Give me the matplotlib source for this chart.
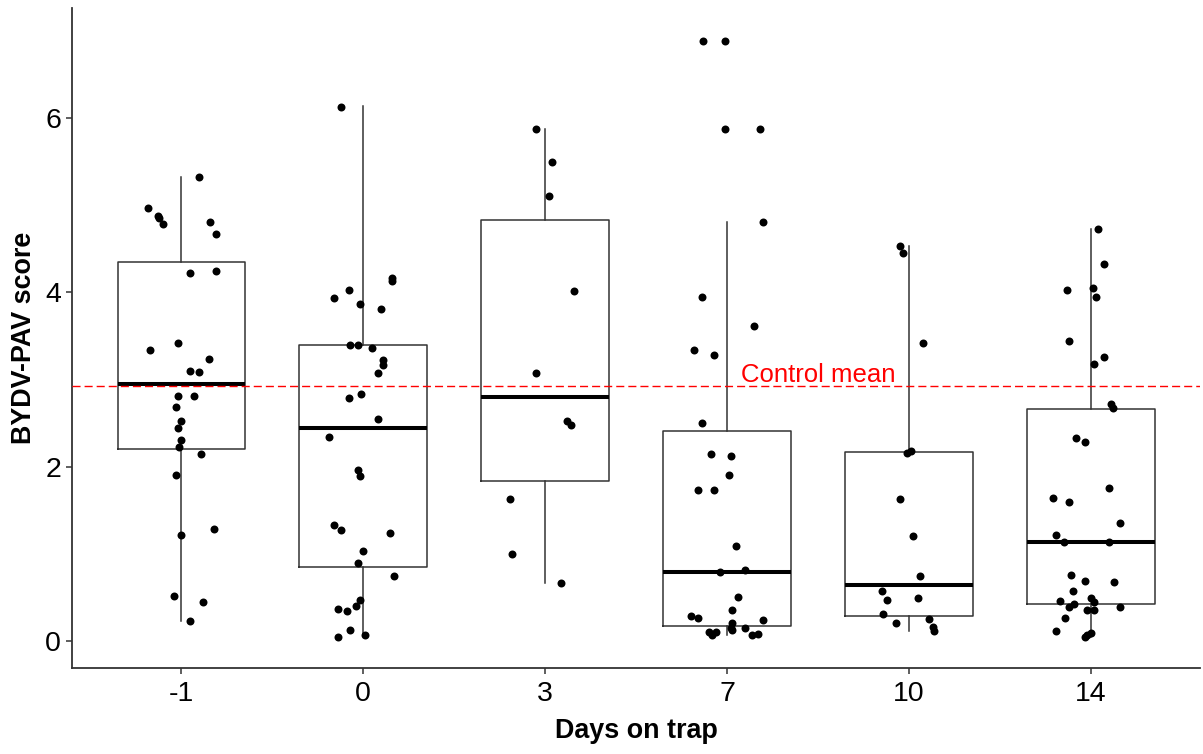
import matplotlib.pyplot as plt
import numpy as np

plt.rcParams['font.family'] = ['Liberation Sans', 'DejaVu Sans']

days = ['-1', '0', '3', '7', '10', '14']

# BYDV-PAV scores per group
score_m1 = [5.32, 4.97, 4.88, 4.85, 4.78, 4.81, 4.67, 4.22, 4.24, 3.42, 3.34, 3.24, 3.10, 3.09,
            2.81, 2.81, 2.68, 2.52, 2.44, 2.31, 2.22, 2.15, 1.90, 1.29, 1.22, 0.52, 0.45, 0.23]
score_0 = [6.13, 4.16, 4.13, 4.02, 3.93, 3.87, 3.81, 3.39, 3.39, 3.36, 3.22, 3.16, 3.07, 2.83,
           2.79, 2.55, 2.34, 1.96, 1.89, 1.33, 1.27, 1.24, 1.03, 0.89, 0.74, 0.47, 0.40, 0.37,
           0.34, 0.13, 0.05, 0.07]
score_3 = [5.87, 5.49, 5.10, 4.01, 3.07, 2.52, 2.48, 1.63, 1.00, 0.66]
score_7 = [6.88, 6.88, 5.87, 5.87, 4.80, 3.95, 3.61, 3.34, 3.28, 2.50, 2.15, 2.12, 1.90, 1.73,
           1.73, 1.09, 0.79, 0.81, 0.50, 0.36, 0.29, 0.26, 0.24, 0.21, 0.15, 0.13, 0.15, 0.10,
           0.10, 0.07, 0.07, 0.08]
score_10 = [4.53, 4.45, 3.42, 2.16, 2.18, 1.63, 1.21, 0.74, 0.57, 0.47, 0.49, 0.31, 0.21, 0.25,
            0.16, 0.12]
score_14 = [4.73, 4.32, 4.03, 4.05, 3.95, 3.44, 3.26, 3.18, 2.72, 2.67, 2.33, 2.28, 1.75, 1.64,
            1.59, 1.35, 1.22, 1.13, 1.13, 0.76, 0.69, 0.68, 0.57, 0.46, 0.49, 0.45, 0.42, 0.39,
            0.36, 0.36, 0.39, 0.26, 0.11, 0.09, 0.05, 0.07]

# horizontal jitter of each point (fraction of a category), as seen in the picture
jit_m1 = [0.10, -0.18, -0.13, -0.12, -0.10, 0.16, 0.19, 0.05, 0.19, -0.02, -0.17, 0.15, 0.05, 0.10,
          -0.02, 0.07, -0.03, 0.00, -0.02, 0.00, -0.01, 0.11, -0.03, 0.18, 0.00, -0.04, 0.12, 0.05]
jit_0 = [-0.12, 0.16, 0.16, -0.08, -0.16, -0.02, 0.10, -0.07, -0.03, 0.05, 0.11, 0.11, 0.08, -0.01,
         -0.08, 0.08, -0.19, -0.03, -0.02, -0.16, -0.12, 0.15, 0.00, -0.03, 0.17, -0.02, -0.04, -0.14,
         -0.09, -0.07, -0.14, 0.01]
jit_3 = [-0.05, 0.04, 0.02, 0.16, -0.05, 0.12, 0.14, -0.19, -0.18, 0.09]
jit_7 = [-0.13, -0.01, -0.01, 0.18, 0.20, -0.14, 0.15, -0.18, -0.07, -0.14, -0.09, 0.02, 0.01, -0.16,
         -0.07, 0.05, -0.04, 0.10, 0.06, 0.03, -0.20, -0.16, 0.20, 0.03, 0.02, 0.03, 0.10, -0.10,
         -0.06, -0.08, 0.14, 0.17]
jit_10 = [-0.05, -0.03, 0.08, -0.01, 0.01, -0.05, 0.02, 0.06, -0.15, -0.12, 0.05, -0.14, -0.07, 0.11,
          0.13, 0.14]
jit_14 = [0.04, 0.07, -0.13, 0.01, 0.03, -0.12, 0.07, 0.02, 0.11, 0.12, -0.08, -0.03, 0.10, -0.21,
          -0.12, 0.16, -0.19, -0.15, 0.10, -0.11, -0.03, 0.13, -0.10, -0.17, 0.00, 0.02, -0.09, -0.12,
          -0.02, 0.02, 0.16, -0.14, -0.19, 0.00, -0.03, -0.02]

# box statistics as drawn
whislo = [0.23, 0.06, 0.66, 0.07, 0.12, 0.05]
q1 = [2.20, 0.85, 1.84, 0.17, 0.29, 0.42]
med = [2.945, 2.445, 2.80, 0.79, 0.645, 1.13]
q3 = [4.35, 3.39, 4.83, 2.41, 2.17, 2.66]
whishi = [5.32, 6.14, 5.87, 4.80, 4.53, 4.73]

control_mean = 2.93

scores = [score_m1, score_0, score_3, score_7, score_10, score_14]
jitters = [jit_m1, jit_0, jit_3, jit_7, jit_10, jit_14]

fig = plt.figure(figsize=(12.03, 7.54), dpi=100)
ax = fig.add_axes([0.0599, 0.114, 0.9376, 0.8754])

stats = []
for i in range(len(days)):
    stats.append({'whislo': whislo[i], 'q1': q1[i], 'med': med[i], 'q3': q3[i],
                  'whishi': whishi[i], 'fliers': []})

line_col = '#333333'
ax.bxp(stats, positions=range(len(days)), widths=0.7, showcaps=False, showfliers=False,
       boxprops=dict(color=line_col, linewidth=1.1),
       whiskerprops=dict(color=line_col, linewidth=1.1),
       medianprops=dict(color='black', linewidth=2.9, solid_capstyle='butt'))

for i, (s, j) in enumerate(zip(scores, jitters)):
    ax.scatter(i + np.array(j), s, s=33, color='black', zorder=3, linewidths=0)

ax.axhline(control_mean, color='#ff0000', linewidth=1.0, linestyle=(0, (5.8, 2.9)), zorder=4)
ax.text(3.5, control_mean + 0.04, 'Control mean', color='#ff0000', fontsize=18.5,
        ha='center', va='baseline')

ax.set_xlim(-0.6, 5.6)
ax.set_ylim(-0.31, 7.26)
ax.set_xticks(range(len(days)))
ax.set_xticklabels(days)
ax.set_yticks([0, 2, 4, 6])

for side in ['top', 'right']:
    ax.spines[side].set_visible(False)
for side in ['left', 'bottom']:
    ax.spines[side].set_color('#333333')
    ax.spines[side].set_linewidth(1.3)
ax.tick_params(length=4, width=1.1, color='#333333', labelsize=20.5, labelcolor='black')
ax.tick_params(axis='x', pad=5)
ax.tick_params(axis='y', pad=4)

ax.set_xlabel('Days on trap', fontsize=19.4, fontweight='bold', labelpad=8)
ax.set_ylabel('BYDV-PAV score', fontsize=19.4, fontweight='bold', labelpad=6)

plt.savefig('out.png', dpi=100)
